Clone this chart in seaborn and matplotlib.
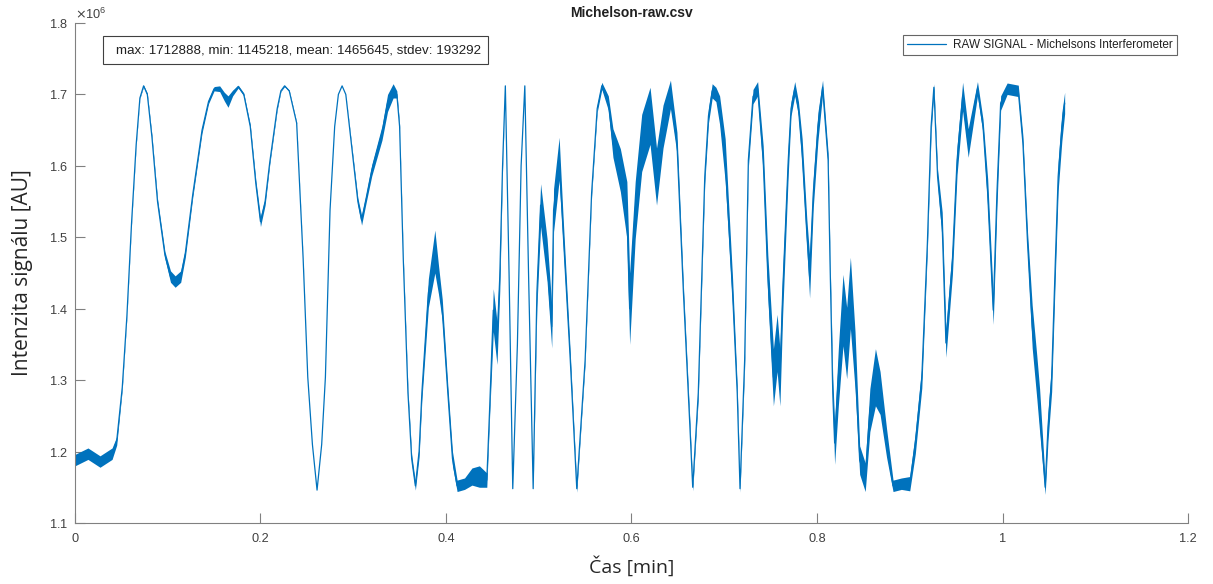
import numpy as np
import pandas as pd
import seaborn as sns
import matplotlib
matplotlib.use("Agg")
import matplotlib.pyplot as plt
from matplotlib.patches import Rectangle
from matplotlib.ticker import ScalarFormatter, FuncFormatter, MultipleLocator

# time [min]
t = [0.000, 0.014, 0.027, 0.040, 0.045, 0.051, 0.056, 0.061, 0.066, 0.070,
     0.074, 0.078, 0.083, 0.089, 0.097, 0.103, 0.108, 0.114, 0.119, 0.127,
     0.137, 0.144, 0.150, 0.156, 0.161, 0.165, 0.170, 0.176, 0.182, 0.189,
     0.195, 0.200, 0.205, 0.210, 0.218, 0.222, 0.226, 0.231, 0.239, 0.246,
     0.251, 0.256, 0.261, 0.266, 0.270, 0.275, 0.280, 0.284, 0.288, 0.292,
     0.300, 0.305, 0.309, 0.314, 0.320, 0.331, 0.337, 0.343, 0.347, 0.350,
     0.354, 0.359, 0.363, 0.367, 0.371, 0.374, 0.381, 0.388, 0.392, 0.396,
     0.402, 0.407, 0.412, 0.420, 0.428, 0.436, 0.444, 0.447, 0.451, 0.455,
     0.458, 0.461, 0.464, 0.468, 0.472, 0.477, 0.481, 0.485, 0.489, 0.494,
     0.498, 0.502, 0.509, 0.514, 0.516, 0.522, 0.526, 0.534, 0.541, 0.550,
     0.557, 0.563, 0.568, 0.575, 0.580, 0.588, 0.595, 0.598, 0.604, 0.611,
     0.620, 0.627, 0.634, 0.642, 0.649, 0.656, 0.663, 0.666, 0.672, 0.679, 0.683,
     0.687, 0.691, 0.695, 0.701, 0.709, 0.714, 0.717, 0.722, 0.726, 0.731, 0.736,
     0.742, 0.747, 0.753, 0.757, 0.760, 0.763, 0.769, 0.772, 0.776, 0.780, 0.784, 0.789,
     0.792, 0.796, 0.801, 0.806, 0.812, 0.814, 0.817, 0.819, 0.823, 0.828,
     0.832, 0.836, 0.841, 0.846, 0.852, 0.857, 0.863, 0.868, 0.875, 0.882,
     0.891, 0.900, 0.906, 0.913, 0.919, 0.923, 0.926, 0.930, 0.935, 0.939,
     0.946, 0.951, 0.957, 0.963, 0.973, 0.979, 0.984, 0.990, 0.994, 0.998,
     1.005, 1.017, 1.022, 1.027, 1.032, 1.037, 1.040, 1.046, 1.049, 1.053,
     1.057, 1.060, 1.064, 1.067]

# signal [x 1e6 AU]
signal = [1.188, 1.197, 1.186, 1.197, 1.215, 1.290, 1.390, 1.520, 1.630, 1.695,
          1.712, 1.700, 1.640, 1.550, 1.475, 1.445, 1.438, 1.445, 1.478, 1.560,
          1.650, 1.690, 1.708, 1.708, 1.697, 1.690, 1.702, 1.711, 1.700, 1.655,
          1.575, 1.522, 1.550, 1.605, 1.680, 1.705, 1.712, 1.705, 1.660, 1.470,
          1.304, 1.210, 1.146, 1.210, 1.304, 1.538, 1.655, 1.700, 1.712, 1.700,
          1.608, 1.550, 1.524, 1.555, 1.594, 1.646, 1.688, 1.705, 1.700, 1.655,
          1.468, 1.282, 1.190, 1.152, 1.200, 1.282, 1.422, 1.480, 1.440, 1.398,
          1.282, 1.190, 1.152, 1.155, 1.165, 1.165, 1.160, 1.258, 1.398, 1.352,
          1.445, 1.600, 1.712, 1.450, 1.148, 1.350, 1.600, 1.712, 1.450, 1.148,
          1.422, 1.545, 1.468, 1.375, 1.538, 1.610, 1.515, 1.328, 1.148, 1.328,
          1.562, 1.680, 1.712, 1.688, 1.632, 1.594, 1.538, 1.400, 1.538, 1.632,
          1.670, 1.585, 1.655, 1.700, 1.632, 1.422, 1.234, 1.150, 1.282, 1.585, 1.670,
          1.705, 1.700, 1.678, 1.608, 1.422, 1.282, 1.148, 1.328, 1.608, 1.697, 1.708,
          1.608, 1.445, 1.304, 1.352, 1.304, 1.422, 1.608, 1.680, 1.708, 1.680, 1.618, 1.506,
          1.445, 1.562, 1.655, 1.710, 1.608, 1.468, 1.282, 1.212, 1.304, 1.398,
          1.352, 1.422, 1.328, 1.188, 1.164, 1.258, 1.304, 1.282, 1.212, 1.152,
          1.155, 1.155, 1.212, 1.304, 1.492, 1.655, 1.710, 1.585, 1.515, 1.352,
          1.468, 1.608, 1.697, 1.632, 1.708, 1.655, 1.562, 1.398, 1.562, 1.688,
          1.708, 1.705, 1.632, 1.492, 1.375, 1.304, 1.258, 1.150, 1.234, 1.304,
          1.468, 1.585, 1.655, 1.688]

# visible noise half-width of the trace [x 1e6 AU]
noise = [0.008, 0.008, 0.008, 0.008, 0.006, 0.003, 0.002, 0.002, 0.002, 0.001,
         0.001, 0.002, 0.003, 0.004, 0.005, 0.008, 0.008, 0.008, 0.006, 0.004,
         0.004, 0.003, 0.003, 0.004, 0.006, 0.008, 0.004, 0.002, 0.002, 0.003,
         0.005, 0.007, 0.005, 0.003, 0.002, 0.001, 0.001, 0.001, 0.001, 0.001,
         0.0, 0.0, 0.0, 0.0, 0.0, 0.0, 0.0, 0.0, 0.0, 0.0,
         0.003, 0.005, 0.007, 0.006, 0.008, 0.010, 0.012, 0.010, 0.005, 0.003,
         0.004, 0.005, 0.006, 0.006, 0.008, 0.010, 0.020, 0.030, 0.020, 0.015,
         0.010, 0.010, 0.008, 0.008, 0.012, 0.015, 0.010, 0.010, 0.030, 0.030,
         0.020, 0.005, 0.0, 0.0, 0.0, 0.0, 0.0, 0.0, 0.0, 0.0,
         0.020, 0.030, 0.030, 0.030, 0.030, 0.030, 0.020, 0.010, 0.005, 0.005,
         0.005, 0.005, 0.005, 0.010, 0.020, 0.030, 0.040, 0.050, 0.040, 0.040,
         0.040, 0.040, 0.030, 0.020, 0.015, 0.010, 0.008, 0.005, 0.008, 0.010, 0.010,
         0.010, 0.010, 0.020, 0.030, 0.020, 0.010, 0.005, 0.010, 0.010, 0.010, 0.010,
         0.020, 0.030, 0.040, 0.040, 0.040, 0.030, 0.020, 0.010, 0.010, 0.010, 0.020, 0.020,
         0.030, 0.020, 0.020, 0.010, 0.010, 0.010, 0.020, 0.030, 0.040, 0.050,
         0.050, 0.050, 0.040, 0.020, 0.020, 0.030, 0.040, 0.030, 0.020, 0.008,
         0.008, 0.010, 0.015, 0.015, 0.010, 0.010, 0.005, 0.010, 0.020, 0.020,
         0.020, 0.020, 0.020, 0.020, 0.010, 0.010, 0.020, 0.020, 0.020, 0.010,
         0.008, 0.008, 0.010, 0.015, 0.030, 0.030, 0.030, 0.010, 0.020, 0.020,
         0.020, 0.020, 0.020, 0.015]

stats_text = "max: 1712888, min: 1145218, mean: 1465645, stdev: 193292"
title = "Michelson-raw.csv"
series_label = "RAW SIGNAL - Michelsons Interferometer"
xlabel = "Čas [min]"
ylabel = "Intenzita signálu [AU]"

df = pd.DataFrame({"t": t, "v": np.array(signal) * 1e6, "n": np.array(noise) * 1e6})

sns.set_theme(style="white")
plt.rcParams["font.family"] = ["Liberation Sans", "DejaVu Sans"]

color = "#0072BD"
axis_gray = "#808080"
text_gray = "#404040"

fig = plt.figure(figsize=(12.13, 5.84), dpi=100)
ax = fig.add_axes([0.0618, 0.1045, 0.9794 - 0.0618, 0.9606 - 0.1045])

ax.fill_between(df["t"], df["v"] - df["n"], df["v"] + df["n"], color=color, lw=0)
sns.lineplot(data=df, x="t", y="v", ax=ax, color=color, lw=0.9,
             estimator=None, sort=False, label=series_label)

ax.set_xlim(0, 1.2)
ax.set_ylim(1.1e6, 1.8e6)
ax.xaxis.set_major_locator(MultipleLocator(0.2))
ax.yaxis.set_major_locator(MultipleLocator(0.1e6))
ax.xaxis.set_major_formatter(FuncFormatter(lambda x, p: f"{x:g}"))
fmt = ScalarFormatter(useMathText=True)
fmt.set_powerlimits((6, 6))
ax.yaxis.set_major_formatter(fmt)

for s in ["top", "right"]:
    ax.spines[s].set_visible(False)
for s in ["left", "bottom"]:
    ax.spines[s].set_color(axis_gray)
    ax.spines[s].set_linewidth(0.8)
ax.tick_params(direction="in", length=7.2, width=0.8, color=axis_gray,
               labelcolor=text_gray, labelsize=9.2, left=True, bottom=True, pad=5)
ax.tick_params(axis="x", pad=7)
ax.yaxis.get_offset_text().set_fontsize(9.2)
ax.yaxis.get_offset_text().set_color(text_gray)

ax.set_xlabel(xlabel, fontsize=14, family=["Open Sans", "DejaVu Sans"], labelpad=8)
ax.set_ylabel(ylabel, fontsize=15, family=["Open Sans", "DejaVu Sans"], labelpad=11)
ax.set_title(title, fontsize=10, fontweight="bold", pad=4, color="#202020")

ax.add_patch(Rectangle((0.0252, 0.918), 0.3459, 0.056, transform=ax.transAxes,
                       fc="white", ec="#404040", lw=0.8, zorder=5))
ax.text(0.0368, 0.946, stats_text, transform=ax.transAxes, fontsize=9.6,
        va="center", ha="left", color="#202020", zorder=6)

leg = ax.legend(loc="upper right", bbox_to_anchor=(0.99, 0.977), fontsize=8.5,
                frameon=True, fancybox=False, edgecolor="#404040",
                borderpad=0.35, handlelength=3.3, handletextpad=0.6, borderaxespad=0)
leg.get_frame().set_linewidth(0.8)
for txt in leg.get_texts():
    txt.set_color("#202020")

fig.savefig("out.png", dpi=100)
